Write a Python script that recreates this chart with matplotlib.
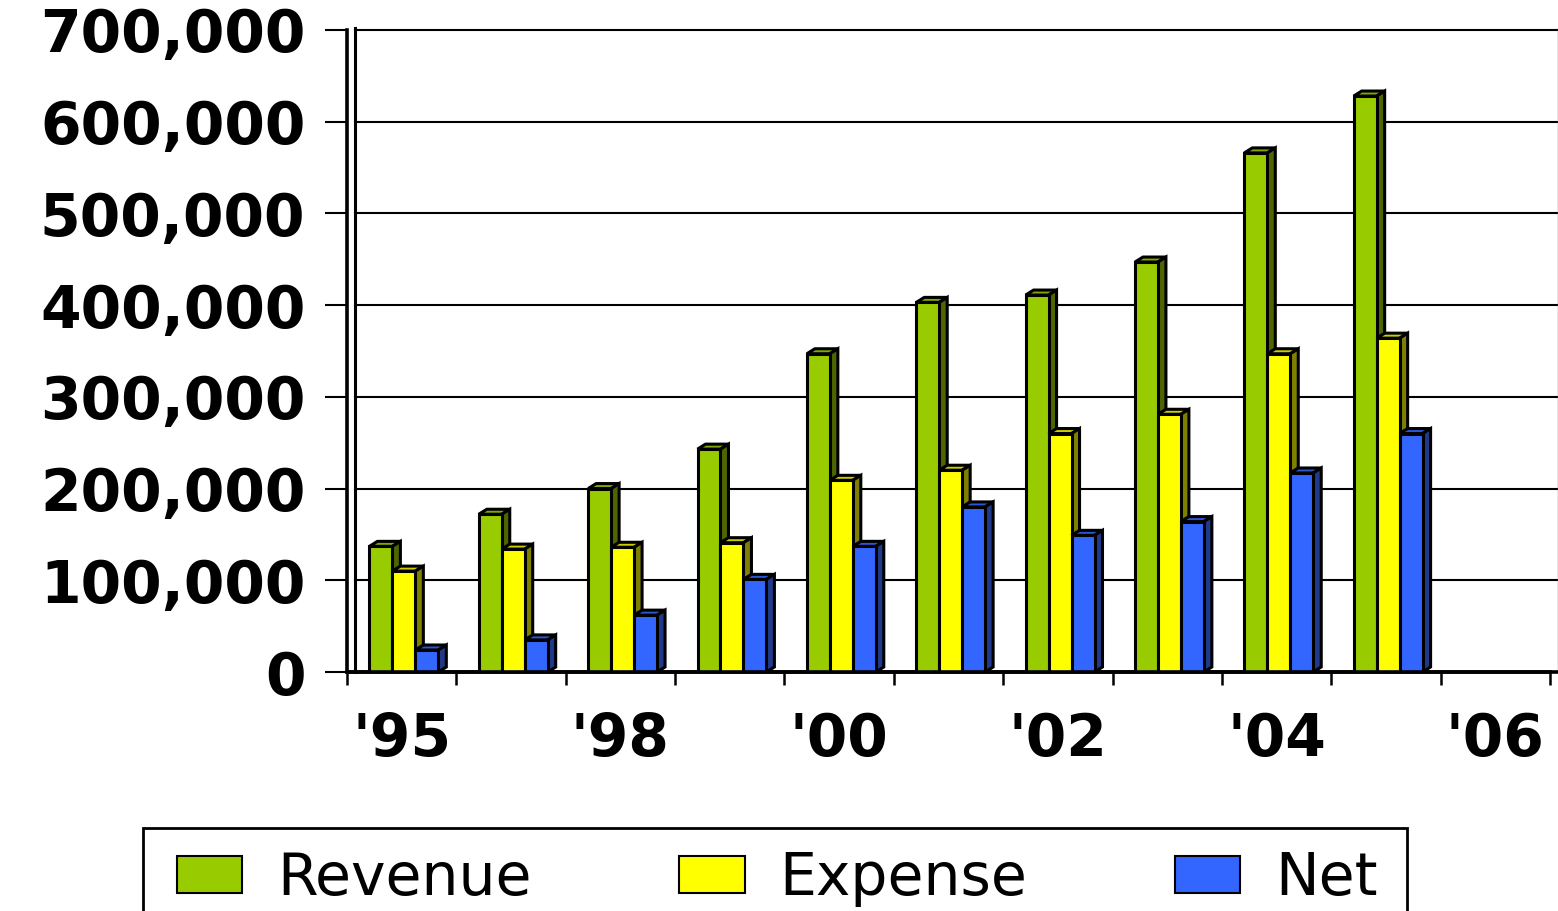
import matplotlib
matplotlib.use('Agg')
import matplotlib.pyplot as plt
from matplotlib.patches import Polygon, Rectangle, Patch
import numpy as np

# data (front face tops of the 3D columns)
years = ["'95", "'97", "'98", "'99", "'00", "'01", "'02", "'03", "'04", "'05", "'06"]
revenue = [137000, 172000, 200000, 243000, 347000, 403000, 411000, 447000, 566000, 628000, np.nan]
expense = [110000, 134000, 136000, 141000, 209000, 220000, 260000, 281000, 347000, 364000, np.nan]
net = [24000, 35000, 62000, 101000, 137000, 180000, 149000, 164000, 217000, 260000, np.nan]
series_names = ['Revenue', 'Expense', 'Net']
y_ticks = [0, 100000, 200000, 300000, 400000, 500000, 600000, 700000]

# front, top, side colours for each series
face_colors = ['#99CC00', '#FFFF00', '#3366FF']
top_colors = ['#7FA800', '#CCCC00', '#2C56D8']
side_colors = ['#4D6600', '#808000', '#1F3A8A']

W, H = 1558, 911
fig = plt.figure(figsize=(W / 100, H / 100), dpi=100)
ax = fig.add_axes([347 / W, (H - 672) / H, (1550 - 347) / W, (672 - 30) / H])
ax.set_xlim(0, len(years))
ax.set_ylim(0, 700000)

# pixel size of one data unit, used for the fake depth of the columns
px_x = (1550 - 347) / len(years)
px_y = (672 - 30) / 700000
dx = 8 / px_x
dy = 5 / px_y

# back wall gridlines
for v in y_ticks[1:]:
    ax.plot([dx, len(years) + dx], [v, v], color='black', lw=1.5,
            clip_on=False, zorder=1)
ax.plot([dx, dx], [0, 700000 + 2 / px_y], color='black', lw=2.2,
        clip_on=False, zorder=2)
ax.plot([len(years) + dx] * 2, [0, 700000 + 2 / px_y], color='#888888', lw=1,
        clip_on=False, zorder=1)
ax.plot([0, len(years) + dx], [0, 0], color='black', lw=2.6,
        clip_on=False, zorder=6, solid_capstyle='butt')

# 3D-looking columns
w = 0.21
values = [revenue, expense, net]
for i in range(len(years)):
    for j, vals in enumerate(values):
        v = vals[i]
        if np.isnan(v):
            continue
        x0 = i + 0.52 - 1.5 * w + j * w
        x1 = x0 + w
        top = Polygon([(x0, v), (x0 + dx, v + dy), (x1 + dx, v + dy), (x1, v)],
                      closed=True, facecolor=top_colors[j], edgecolor='black',
                      lw=2.2, joinstyle='miter', zorder=3)
        side = Polygon([(x1, 0), (x1 + dx, dy), (x1 + dx, v + dy), (x1, v)],
                       closed=True, facecolor=side_colors[j], edgecolor='black',
                       lw=2.2, joinstyle='miter', zorder=3)
        front = Rectangle((x0, 0), w, v, facecolor=face_colors[j],
                          edgecolor='black', lw=2.2, joinstyle='miter', zorder=3)
        ax.add_patch(top)
        ax.add_patch(side)
        ax.add_patch(front)

# axes styling
for s in ['top', 'right']:
    ax.spines[s].set_visible(False)
ax.spines['left'].set_linewidth(2.6)
ax.spines['bottom'].set_linewidth(2.6)
ax.spines['left'].set_zorder(5)

ax.set_yticks(y_ticks)
ax.set_yticklabels([f'{v:,}' for v in y_ticks])
ax.tick_params(axis='y', length=16, width=1.5, pad=14, labelsize=42)

ax.set_xticks(np.arange(len(years) + 1))
ax.set_xticklabels([])
ax.tick_params(axis='x', which='major', length=9, width=1.8, direction='out')
label_pos = [i + 0.5 for i in range(0, len(years), 2)]
ax.set_xticks(label_pos, minor=True)
ax.set_xticklabels([years[i] for i in range(0, len(years), 2)], minor=True)
ax.tick_params(axis='x', which='minor', length=0, pad=28, labelsize=42)

for lbl in ax.get_yticklabels() + ax.get_xticklabels(minor=True):
    lbl.set_fontweight('bold')
    lbl.set_family('DejaVu Sans')

# legend frame runs off the bottom edge, so draw it by hand
frame = Rectangle((143 / W, -0.05), (1407 - 143) / W, (H - 828) / H + 0.05,
                  transform=fig.transFigure, facecolor='white',
                  edgecolor='black', lw=2, zorder=0)
fig.patches.append(frame)

handles = [Patch(facecolor=face_colors[k], edgecolor='black', lw=1.5,
                 label=series_names[k]) for k in range(3)]
leg_top = (H - 850) / H
leg = fig.legend(handles=handles, loc='upper left',
                 bbox_to_anchor=(177 / W, leg_top - 0.2, (1378 - 177) / W, 0.2),
                 mode='expand', ncol=3, fontsize=42, frameon=False,
                 borderpad=0, borderaxespad=0, handlelength=1.12,
                 handleheight=0.6, handletextpad=0.6)

plt.savefig('out.png', dpi=100)
